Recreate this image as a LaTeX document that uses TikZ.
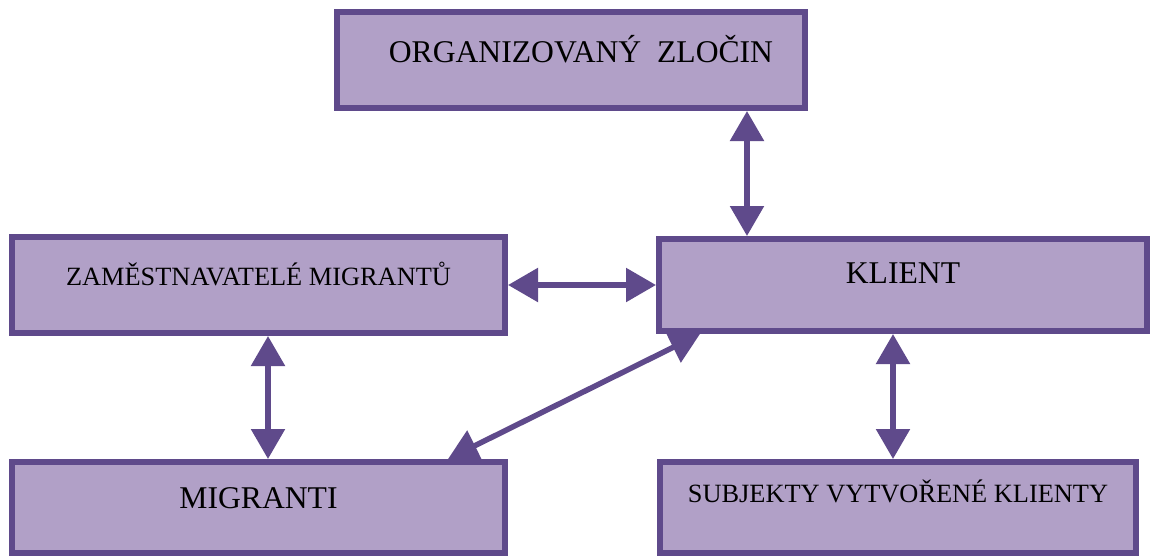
\documentclass[tikz,border=0pt]{standalone}
\usepackage{fontspec}
\setmainfont{Liberation Serif}
\usetikzlibrary{arrows.meta}
\definecolor{lilatmava}{HTML}{5F4A8B}
\definecolor{lilasvetla}{HTML}{B1A0C7}

\begin{document}
\begin{tikzpicture}[
		blok/.style 2 args={draw=lilatmava, fill=lilasvetla, line width=0.12cm,%
			inner sep=0pt, text height=#1, text depth=#2},
		velky/.style={font=\fontsize{18pt}{20pt}\selectfont},
		maly/.style={font=\fontsize{15pt}{17pt}\selectfont},
		oboustr/.style={draw=lilatmava, line width=0.11cm,%
			{Triangle[length=0.6cm,width=0.66cm]}-{Triangle[length=0.6cm,width=0.66cm]}}]
			\useasboundingbox (0,0) rectangle (23.02,-11.1);
			
			% bloky
			\node[blok={1.0cm}{0.92cm}, velky, minimum width=9.36cm] (org) at (11.42,-1.2) {\hspace{0.4cm}ORGANIZOVANÝ\ \ ZLOČIN};
			\node[blok={0.96cm}{0.96cm}, maly, minimum width=9.86cm] (zam) at (5.17,-5.7) {ZAMĚSTNAVATELÉ MIGRANTŮ};
			\node[blok={0.88cm}{0.96cm}, velky, minimum width=9.76cm] (klient) at (18.06,-5.7) {KLIENT};
			\node[blok={0.92cm}{0.9cm}, velky, minimum width=9.86cm] (migr) at (5.17,-10.15) {MIGRANTI};
			\node[blok={0.8cm}{1.02cm}, maly, minimum width=9.52cm] (subj) at (17.96,-10.15) {SUBJEKTY VYTVOŘENÉ KLIENTY};
			
			% vazby
			\draw[oboustr] ([xshift=3.52cm]org.south) -- ([xshift=3.52cm]org.south |- klient.north);
			\draw[oboustr] (zam.east) -- (klient.west);
			\draw[oboustr] ([xshift=0.19cm]zam.south) -- ([xshift=0.19cm]zam.south |- migr.north);
			\draw[oboustr] ([xshift=-1.2cm]migr.north east) -- ([xshift=0.88cm]klient.south west);
			\draw[oboustr] ([xshift=-0.2cm]klient.south) -- ([xshift=-0.2cm]klient.south |- subj.north);
		\end{tikzpicture}
\end{document}
